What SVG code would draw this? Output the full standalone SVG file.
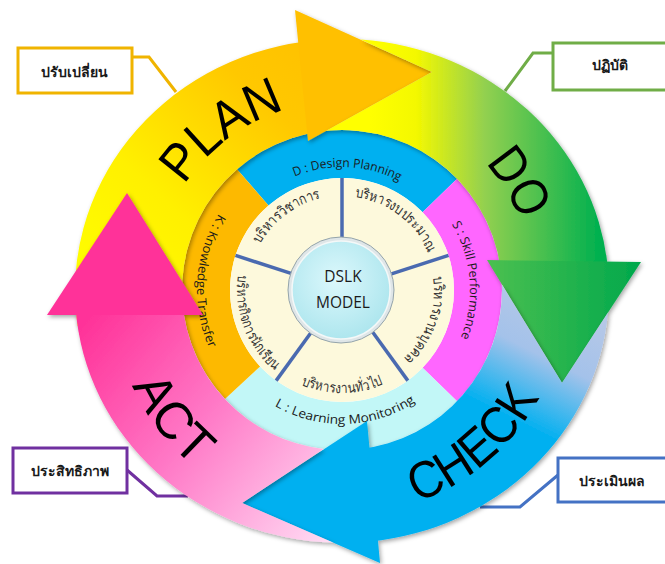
<svg xmlns="http://www.w3.org/2000/svg" width="665" height="564" viewBox="0 0 665 564">
<style>
.big{font-family:"Liberation Sans","Open Sans",sans-serif;font-size:52px;fill:#000}
.band{font-family:"Open Sans","Liberation Sans",sans-serif;font-size:12.5px;fill:#1a1a1a}
.seg{font-family:"Noto Sans","DejaVu Sans",sans-serif;font-size:14.5px;fill:#333}
.ctr{font-family:"Open Sans","Liberation Sans",sans-serif;font-size:15.5px;fill:#1a1a1a;text-anchor:middle}
.call{font-family:"Noto Sans","DejaVu Sans",sans-serif;font-size:14px;font-weight:600;fill:#1a1a1a;text-anchor:middle}
.box{fill:#fff;stroke-width:3}
.lead{fill:none;stroke-width:3}
.div{stroke:#4a6ab0;stroke-width:3.5;stroke-linecap:butt}
</style>
<defs>
<filter id="sh" x="-15%" y="-15%" width="130%" height="130%"><feDropShadow dx="1.5" dy="2" stdDeviation="2" flood-color="#000" flood-opacity="0.35"/></filter>
<linearGradient id="gPlan" gradientUnits="userSpaceOnUse" x1="90" y1="300" x2="330" y2="40"><stop offset="0" stop-color="#ffff00"/><stop offset="0.35" stop-color="#fff000"/><stop offset="0.75" stop-color="#ffc800"/><stop offset="1" stop-color="#ffc000"/></linearGradient>
<linearGradient id="gDo" gradientUnits="userSpaceOnUse" x1="370" y1="0" x2="600" y2="0"><stop offset="0" stop-color="#ffff00"/><stop offset="0.2" stop-color="#f4f800"/><stop offset="0.5" stop-color="#92d050"/><stop offset="1" stop-color="#00b050"/></linearGradient>
<linearGradient id="gDoH" gradientUnits="userSpaceOnUse" x1="487" y1="0" x2="640" y2="0"><stop offset="0" stop-color="#4cc050"/><stop offset="1" stop-color="#00a84c"/></linearGradient>
<linearGradient id="gCheck" gradientUnits="userSpaceOnUse" x1="610" y1="300" x2="520" y2="480"><stop offset="0" stop-color="#bccae6"/><stop offset="0.4" stop-color="#a4c2ea"/><stop offset="0.75" stop-color="#00b0f0"/></linearGradient>
<linearGradient id="gAct" gradientUnits="userSpaceOnUse" x1="80" y1="330" x2="340" y2="540"><stop offset="0" stop-color="#ff3399"/><stop offset="0.45" stop-color="#ff78c6"/><stop offset="1" stop-color="#ffe0f6"/></linearGradient>
<radialGradient id="gCenter" cx="0.45" cy="0.4" r="0.6"><stop offset="0" stop-color="#dcf8fc"/><stop offset="1" stop-color="#aee6ee"/></radialGradient>
<path id="pUL" d="M249.43,273.68 A94 94 0 0 1 351.83,196.51"/>
<path id="pUR" d="M332.17,196.51 A94 94 0 0 1 434.57,273.68"/>
<path id="pR" d="M426.69,254.05 A92 92 0 0 1 383.77,371.97"/>
<path id="pB" d="M271.78,365.30 A103 103 0 0 0 412.22,365.30"/>
<path id="pL" d="M244.65,250.67 A105 105 0 0 0 295.97,384.37"/>
<path id="pD" d="M262.12,196.47 A123 123 0 0 1 429.74,203.79"/>
<path id="pS" d="M428.48,195.63 A128 128 0 0 1 442.17,369.68"/>
<path id="pLm" d="M253.21,390.37 A134 134 0 0 0 435.92,385.58"/>
<path id="pK" d="M243.11,183.95 A145 145 0 0 0 229.32,381.25"/>
<path id="pPLAN" d="M155.0,257.35 A190 190 0 0 1 362.52,102.11"/>
<path id="pDO" d="M392.99,105.89 A192 192 0 0 1 530.21,328.95"/>
<path id="pCHECK" d="M332.62,514.80 A224 224 0 0 0 564.60,315.97"/>
<path id="pACT" d="M113.22,267.36 A230 230 0 0 0 302.46,517.58"/>
</defs>

<g id="connectors">
<polyline class="lead" stroke="#f0b400" points="132,57 149,57 176,92"/>
<polyline class="lead" stroke="#70ad47" points="553,53 533,53 505,91"/>
<polyline class="lead" stroke="#7030a0" points="127,470 157,496 188,496"/>
<polyline class="lead" stroke="#4472c4" points="558,475 520,507 480,507"/>
</g>

<g id="band-d">
<path fill="#00b0f0" d="M237.03,169.25 A160 160 0 0 1 457.09,178.85 L422.56,212.19 A112 112 0 0 0 268.52,205.47 Z"/>
<text class="band"><textPath href="#pD" startOffset="50%" text-anchor="middle" textLength="108" lengthAdjust="spacingAndGlyphs">D : Design Planning</textPath></text>
</g>
<g id="band-s">
<path fill="#ff66ff" d="M457.09,178.85 A160 160 0 0 1 457.09,401.15 L422.56,367.81 A112 112 0 0 0 422.56,212.19 Z"/>
<text class="band"><textPath href="#pS" startOffset="50%" text-anchor="middle" textLength="118" lengthAdjust="spacingAndGlyphs">S : Skill Performance</textPath></text>
</g>
<g id="band-l">
<path fill="#c2f7f7" d="M457.09,401.15 A160 160 0 0 1 224.98,399.12 L260.09,366.38 A112 112 0 0 0 422.56,367.81 Z"/>
<text class="band"><textPath href="#pLm" startOffset="50%" text-anchor="middle" textLength="148" lengthAdjust="spacingAndGlyphs">L : Learning  Monitoring</textPath></text>
</g>
<g id="band-k">
<path fill="#fdb900" d="M224.98,399.12 A160 160 0 0 1 237.03,169.25 L268.52,205.47 A112 112 0 0 0 260.09,366.38 Z"/>
<text class="band"><textPath href="#pK" startOffset="50%" text-anchor="middle" textLength="140" lengthAdjust="spacingAndGlyphs">K : Knowledge Transfer</textPath></text>
</g>

<g id="segments">
<circle cx="342" cy="290" r="112" fill="#fdf9dc"/>
<line class="div" x1="342" y1="238" x2="342" y2="178"/>
<line class="div" x1="391.46" y1="273.93" x2="448.52" y2="255.39"/>
<line class="div" x1="372.57" y1="332.07" x2="407.83" y2="380.61"/>
<line class="div" x1="311.43" y1="332.07" x2="276.17" y2="380.61"/>
<line class="div" x1="292.54" y1="273.93" x2="235.48" y2="255.39"/>
</g>
<g id="seg-academic"><text class="seg"><textPath href="#pUL" startOffset="50%" text-anchor="middle" textLength="78" lengthAdjust="spacingAndGlyphs">บริหารวิชาการ</textPath></text></g>
<g id="seg-budget"><text class="seg"><textPath href="#pUR" startOffset="50%" text-anchor="middle" textLength="96" lengthAdjust="spacingAndGlyphs">บริหารงบประมาณ</textPath></text></g>
<g id="seg-personnel"><text class="seg"><textPath href="#pR" startOffset="50%" text-anchor="middle" textLength="90" lengthAdjust="spacingAndGlyphs">บริหารงานบุคคล</textPath></text></g>
<g id="seg-general"><text class="seg"><textPath href="#pB" startOffset="50%" text-anchor="middle" textLength="84" lengthAdjust="spacingAndGlyphs">บริหารงานทั่วไป</textPath></text></g>
<g id="seg-student"><text class="seg"><textPath href="#pL" startOffset="50%" text-anchor="middle" textLength="106" lengthAdjust="spacingAndGlyphs">บริหารกิจการนักเรียน</textPath></text></g>

<g id="plan">
<g filter="url(#sh)">
<path fill="url(#gPlan)" d="M77.60,326.07 A267 252 0 0 1 304.84,41.45 L322.5,131.19 A160 160 0 0 0 183.56,312.27 Z"/>
<polygon fill="#ffc000" points="295,10 432,72 308,141"/>
</g>
<text class="big"><textPath href="#pPLAN" startOffset="50%" text-anchor="middle" textLength="128" lengthAdjust="spacingAndGlyphs">PLAN</textPath></text>
</g>
<g id="do">
<g filter="url(#sh)">
<path fill="url(#gDo)" d="M360.6,39.6 A267 252 0 0 1 607.58,265.10 L501.9,284.4 A160 160 0 0 0 326.4,130.76 L432,72 Z"/>
<polygon fill="url(#gDoH)" points="487,260 641,262 562,383"/>
</g>
<text class="big"><textPath href="#pDO" startOffset="50%" text-anchor="middle" textLength="68" lengthAdjust="spacingAndGlyphs">DO</textPath></text>
</g>
<g id="check">
<g filter="url(#sh)">
<path fill="url(#gCheck)" d="M608.0,312.6 A267 252 0 0 1 369.91,541.62 L358.72,449.12 A160 160 0 0 0 501.9,284.4 L562,383 Z"/>
<polygon fill="#00b0f0" points="367,421 242,503 380,563"/>
</g>
<text class="big"><textPath href="#pCHECK" startOffset="50%" text-anchor="middle" textLength="165" lengthAdjust="spacingAndGlyphs">CHECK</textPath></text>
</g>
<g id="act">
<g filter="url(#sh)">
<path fill="url(#gAct)" d="M333.5,542.8 A267 252 0 0 1 75.65,308.58 L182.39,301.16 A160 160 0 0 0 323.45,448.92 L242,503 Z"/>
<polygon fill="#ff3399" points="127,193 47,315 203,315"/>
</g>
<text class="big"><textPath href="#pACT" startOffset="50%" text-anchor="middle" textLength="103" lengthAdjust="spacingAndGlyphs">ACT</textPath></text>
</g>

<g id="center">
<circle cx="341" cy="290" r="53" fill="#dfe6e8" stroke="#94a4aa" stroke-width="1"/>
<circle cx="341" cy="290" r="49" fill="url(#gCenter)" stroke="#f4f8f8" stroke-width="1.5"/>
<text class="ctr" x="343" y="282">DSLK</text>
<text class="ctr" x="343" y="308">MODEL</text>
</g>

<g id="callout-change">
<rect class="box" stroke="#f0b400" x="18" y="48" width="114" height="45"/>
<text class="call" x="74" y="77">ปรับเปลี่ยน</text>
</g>
<g id="callout-do">
<rect class="box" stroke="#70ad47" x="553" y="43" width="120" height="47"/>
<text class="call" x="610" y="70">ปฏิบัติ</text>
</g>
<g id="callout-eff">
<rect class="box" stroke="#7030a0" x="13" y="448" width="114" height="45"/>
<text class="call" x="70" y="476">ประสิทธิภาพ</text>
</g>
<g id="callout-eval">
<rect class="box" stroke="#4472c4" x="558" y="458" width="120" height="44"/>
<text class="call" x="612" y="486">ประเมินผล</text>
</g>
</svg>
